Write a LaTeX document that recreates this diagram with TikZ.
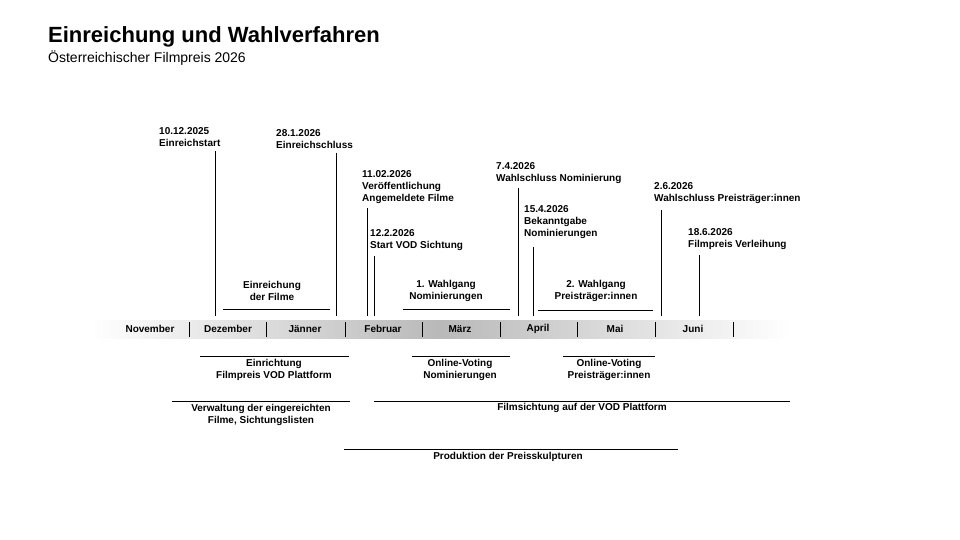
\documentclass[tikz,border=0pt]{standalone}
\usepackage{fontspec}
\setmainfont{Liberation Sans}
\begin{document}
\begin{tikzpicture}[x=1pt,y=-1pt,
  lab/.style={font=\fontsize{10}{12}\selectfont\bfseries, inner sep=0pt, align=left, anchor=south west},
  cen/.style={font=\fontsize{10}{12}\selectfont\bfseries, inner sep=0pt, align=center},
  mon/.style={font=\fontsize{10}{12}\selectfont\bfseries, inner sep=0pt},
  ln/.style={line width=0.8pt},
  sep/.style={line width=0.8pt}]
\useasboundingbox (0,0) rectangle (960,540);
\node[font=\fontsize{22}{26}\selectfont\bfseries, anchor=west, inner sep=0pt] (t) at (48,37) {Einreichung und Wahlverfahren};
\node[font=\fontsize{14}{16}\selectfont, anchor=west, inner sep=0pt] (st) at (48,58) {Österreichischer Filmpreis 2026};
% band
\shade[left color=white, right color=gray!55] (90,320) rectangle (440,338);
\shade[left color=gray!55, right color=white] (440,320) rectangle (790,338);
\foreach \x in {189,266,345,422,500,577,655,733} \draw[sep] (\x,322) -- (\x,337);
\node[mon] (m1) at (150,329) {November};
\node[mon] (m2) at (228,329) {Dezember};
\node[mon] (m3) at (305,329) {Jänner};
\node[mon] (m4) at (383,329) {Februar};
\node[mon] (m5) at (460,329) {März};
\node[mon] (m6) at (538,329) {April};
\node[mon] (m7) at (615,329) {Mai};
\node[mon] (m8) at (693,329) {Juni};
% events
\node[lab] (e1) at (159,147) {10.12.2025\\Einreichstart};
\coordinate (e1b) at (215,316); \draw[ln] (215,151) -- (e1b);
\node[lab] (e2) at (276,149) {28.1.2026\\Einreichschluss};
\coordinate (e2b) at (336,316); \draw[ln] (336,153) -- (e2b);
\node[lab] (e3) at (362,204) {11.02.2026\\Veröffentlichung\\Angemeldete Filme};
\coordinate (e3b) at (367,316); \draw[ln] (367,208) -- (e3b);
\node[lab] (e4) at (370,251) {12.2.2026\\Start VOD Sichtung};
\coordinate (e4b) at (374,316); \draw[ln] (374,256) -- (e4b);
\node[lab] (e5) at (496,184) {7.4.2026\\Wahlschluss Nominierung};
\coordinate (e5b) at (518,316); \draw[ln] (518,188) -- (e5b);
\node[lab] (e6) at (524,239) {15.4.2026\\Bekanntgabe\\Nominierungen};
\coordinate (e6b) at (533,316); \draw[ln] (533,247) -- (e6b);
\node[lab] (e7) at (654,204) {2.6.2026\\Wahlschluss Preisträger:innen};
\coordinate (e7b) at (661,316); \draw[ln] (661,210) -- (e7b);
\node[lab] (e8) at (688,250) {18.6.2026\\Filmpreis Verleihung};
\coordinate (e8b) at (699,316); \draw[ln] (699,255) -- (e8b);
% periods above
\node[cen] (p1) at (272,291) {Einreichung\\der Filme};
\draw[ln] (223,309) -- (330,309);
\node[cen] (p2) at (446,291) {1. Wahlgang\\Nominierungen};
\draw[ln] (403,309) -- (510,309);
\node[cen] (p3) at (596,291) {2. Wahlgang\\Preisträger:innen};
\draw[ln] (538,310) -- (653,310);
% periods below
\draw[ln] (200,356) -- (349,356);
\node[cen] (b1) at (274,370) {Einrichtung\\Filmpreis VOD Plattform};
\draw[ln] (412,356) -- (510,356);
\node[cen] (b2) at (460,370) {Online-Voting\\Nominierungen};
\draw[ln] (563,356) -- (655,356);
\node[cen] (b3) at (609,370) {Online-Voting\\Preisträger:innen};
\draw[ln] (172,401) -- (350,401);
\node[cen] (b4) at (261,415) {Verwaltung der eingereichten\\Filme, Sichtungslisten};
\draw[ln] (374,401) -- (790,401);
\node[cen] (b5) at (582,408) {Filmsichtung auf der VOD Plattform};
\draw[ln] (344,449) -- (678,449);
\node[cen] (b6) at (508,457) {Produktion der Preisskulpturen};
\end{tikzpicture}
\end{document}
